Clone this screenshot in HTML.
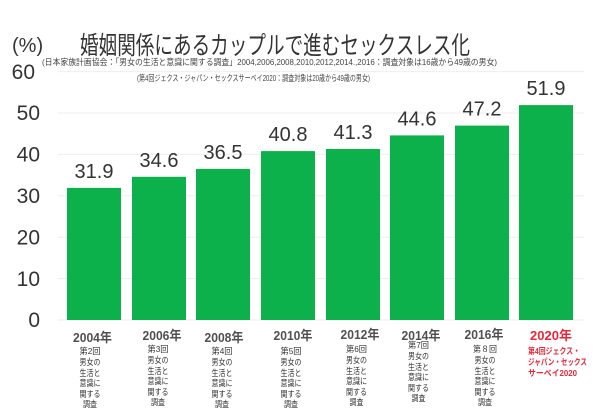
<!DOCTYPE html>
<html><head><meta charset="utf-8"><style>
html,body{margin:0;padding:0;background:#fff;}
svg{display:block;}
text{font-family:"Liberation Sans","Noto Sans CJK JP",sans-serif;}
</style></head><body>
<svg width="602" height="419" viewBox="0 0 602 419" xmlns="http://www.w3.org/2000/svg">
<rect width="602" height="419" fill="#fff"/>
<!-- gridlines -->
<g stroke="#eeeeee" stroke-width="1">
<line x1="58" y1="71.6" x2="584" y2="71.6"/>
<line x1="58" y1="113" x2="584" y2="113"/>
<line x1="58" y1="154.4" x2="584" y2="154.4"/>
<line x1="58" y1="195.8" x2="584" y2="195.8"/>
<line x1="58" y1="237.2" x2="584" y2="237.2"/>
<line x1="58" y1="278.6" x2="584" y2="278.6"/>
<line x1="58" y1="320" x2="584" y2="320"/>
</g>
<!-- y labels -->
<g fill="#333" font-size="21">
<text x="12" y="52" font-size="20">(%)</text>
<text x="35" y="79" text-anchor="end">60</text>
<text x="40" y="120" text-anchor="end">50</text>
<text x="40" y="161.5" text-anchor="end">40</text>
<text x="40" y="203" text-anchor="end">30</text>
<text x="40" y="244.5" text-anchor="end">20</text>
<text x="40" y="286" text-anchor="end">10</text>
<text x="40" y="327" text-anchor="end">0</text>
</g>
<!-- title -->
<text x="80" y="54" font-size="25" fill="#333" textLength="390" lengthAdjust="spacingAndGlyphs">婚姻関係にあるカップルで進むセックスレス化</text>
<text x="42" y="65" font-size="8.5" fill="#444" textLength="455" lengthAdjust="spacingAndGlyphs">(日本家族計画協会：「男女の生活と意識に関する調査」2004,2006,2008,2010,2012,2014.,2016：調査対象は16歳から49歳の男女)</text>
<text x="137" y="81" font-size="8.5" fill="#444" textLength="233" lengthAdjust="spacingAndGlyphs">(第4回ジェクス・ジャパン・セックスサーベイ2020：調査対象は20歳から49歳の男女)</text>
<!-- bars -->
<g fill="#0cb14b">
<rect x="67" y="187.9" width="54" height="132.1"/>
<rect x="132" y="176.8" width="54" height="143.2"/>
<rect x="196" y="168.9" width="54" height="151.1"/>
<rect x="261" y="151.1" width="54" height="168.9"/>
<rect x="326" y="149.0" width="54" height="171"/>
<rect x="390" y="135.4" width="54" height="184.6"/>
<rect x="455" y="125.6" width="54" height="194.4"/>
<rect x="519" y="105.1" width="54" height="214.9"/>
</g>
<!-- value labels -->
<g fill="#333" font-size="20" text-anchor="middle">
<text x="94" y="178">31.9</text>
<text x="159" y="167">34.6</text>
<text x="223" y="159">36.5</text>
<text x="288" y="141">40.8</text>
<text x="353" y="139">41.3</text>
<text x="417" y="125.5">44.6</text>
<text x="482" y="115.5">47.2</text>
<text x="546" y="95">51.9</text>
</g>
<!-- category labels -->
<g fill="#505050" font-size="13" font-weight="bold" text-anchor="middle">
<text x="92.5" y="342" textLength="39" lengthAdjust="spacingAndGlyphs">2004年</text>
<text x="162" y="340" textLength="39" lengthAdjust="spacingAndGlyphs">2006年</text>
<text x="224" y="342" textLength="39" lengthAdjust="spacingAndGlyphs">2008年</text>
<text x="293" y="340" textLength="39" lengthAdjust="spacingAndGlyphs">2010年</text>
<text x="360" y="339" textLength="39" lengthAdjust="spacingAndGlyphs">2012年</text>
<text x="421" y="340" textLength="39" lengthAdjust="spacingAndGlyphs">2014年</text>
<text x="484" y="339" textLength="39" lengthAdjust="spacingAndGlyphs">2016年</text>
<text x="551" y="340" fill="#e5283c" textLength="42" lengthAdjust="spacingAndGlyphs">2020年</text>
</g>
<g fill="#333" font-size="8.5" text-anchor="middle">
<g transform="translate(90,0)">
<text x="0" y="354" textLength="21" lengthAdjust="spacingAndGlyphs">第2回</text><text x="0" y="365" textLength="21" lengthAdjust="spacingAndGlyphs">男女の</text><text x="0" y="376" textLength="21" lengthAdjust="spacingAndGlyphs">生活と</text><text x="0" y="386" textLength="21" lengthAdjust="spacingAndGlyphs">意識に</text><text x="0" y="397" textLength="21" lengthAdjust="spacingAndGlyphs">関する</text><text x="0" y="407" textLength="14" lengthAdjust="spacingAndGlyphs">調査</text>
</g>
<g transform="translate(158,-2)">
<text x="0" y="354" textLength="21" lengthAdjust="spacingAndGlyphs">第3回</text><text x="0" y="365" textLength="21" lengthAdjust="spacingAndGlyphs">男女の</text><text x="0" y="376" textLength="21" lengthAdjust="spacingAndGlyphs">生活と</text><text x="0" y="386" textLength="21" lengthAdjust="spacingAndGlyphs">意識に</text><text x="0" y="397" textLength="21" lengthAdjust="spacingAndGlyphs">関する</text><text x="0" y="407" textLength="14" lengthAdjust="spacingAndGlyphs">調査</text>
</g>
<g transform="translate(222,0)">
<text x="0" y="354" textLength="21" lengthAdjust="spacingAndGlyphs">第4回</text><text x="0" y="365" textLength="21" lengthAdjust="spacingAndGlyphs">男女の</text><text x="0" y="376" textLength="21" lengthAdjust="spacingAndGlyphs">生活と</text><text x="0" y="386" textLength="21" lengthAdjust="spacingAndGlyphs">意識に</text><text x="0" y="397" textLength="21" lengthAdjust="spacingAndGlyphs">関する</text><text x="0" y="407" textLength="14" lengthAdjust="spacingAndGlyphs">調査</text>
</g>
<g transform="translate(291,0)">
<text x="0" y="354" textLength="21" lengthAdjust="spacingAndGlyphs">第5回</text><text x="0" y="365" textLength="21" lengthAdjust="spacingAndGlyphs">男女の</text><text x="0" y="376" textLength="21" lengthAdjust="spacingAndGlyphs">生活と</text><text x="0" y="386" textLength="21" lengthAdjust="spacingAndGlyphs">意識に</text><text x="0" y="397" textLength="21" lengthAdjust="spacingAndGlyphs">関する</text><text x="0" y="407" textLength="14" lengthAdjust="spacingAndGlyphs">調査</text>
</g>
<g transform="translate(356.5,-2)">
<text x="0" y="354" textLength="21" lengthAdjust="spacingAndGlyphs">第6回</text><text x="0" y="365" textLength="21" lengthAdjust="spacingAndGlyphs">男女の</text><text x="0" y="376" textLength="21" lengthAdjust="spacingAndGlyphs">生活と</text><text x="0" y="386" textLength="21" lengthAdjust="spacingAndGlyphs">意識に</text><text x="0" y="397" textLength="21" lengthAdjust="spacingAndGlyphs">関する</text><text x="0" y="407" textLength="14" lengthAdjust="spacingAndGlyphs">調査</text>
</g>
<g transform="translate(418.5,-6)">
<text x="0" y="354" textLength="21" lengthAdjust="spacingAndGlyphs">第7回</text><text x="0" y="365" textLength="21" lengthAdjust="spacingAndGlyphs">男女の</text><text x="0" y="376" textLength="21" lengthAdjust="spacingAndGlyphs">生活と</text><text x="0" y="386" textLength="21" lengthAdjust="spacingAndGlyphs">意識に</text><text x="0" y="397" textLength="21" lengthAdjust="spacingAndGlyphs">関する</text><text x="0" y="407" textLength="14" lengthAdjust="spacingAndGlyphs">調査</text>
</g>
<g transform="translate(485,-2)">
<text x="0" y="354" textLength="24" lengthAdjust="spacingAndGlyphs">第８回</text><text x="0" y="365" textLength="21" lengthAdjust="spacingAndGlyphs">男女の</text><text x="0" y="376" textLength="21" lengthAdjust="spacingAndGlyphs">生活と</text><text x="0" y="386" textLength="21" lengthAdjust="spacingAndGlyphs">意識に</text><text x="0" y="397" textLength="21" lengthAdjust="spacingAndGlyphs">関する</text><text x="0" y="407" textLength="14" lengthAdjust="spacingAndGlyphs">調査</text>
</g>
</g>
<g fill="#e5283c" font-size="8.5" font-weight="bold">
<text x="528" y="354" textLength="52" lengthAdjust="spacingAndGlyphs">第4回ジェクス・</text>
<text x="528" y="365" textLength="59" lengthAdjust="spacingAndGlyphs">ジャパン・セックス</text>
<text x="528" y="376" textLength="49" lengthAdjust="spacingAndGlyphs">サーベイ2020</text>
</g>
</svg>
</body></html>
